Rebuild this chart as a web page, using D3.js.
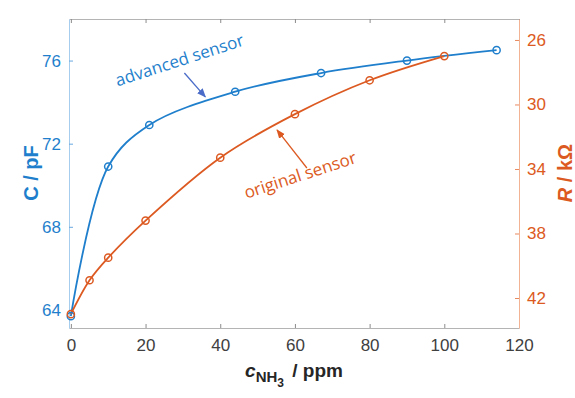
<!DOCTYPE html>
<html>
<head>
<meta charset="utf-8">
<script src="https://cdn.jsdelivr.net/npm/d3@7"></script>
<style>
  body { margin: 0; background: #fff; }
  svg text { font-family: "Liberation Sans", Arial, sans-serif; }
  .note { font-family: "Open Sans", "Lato", sans-serif; }
</style>
</head>
<body>
<svg id="chart" width="575" height="398"></svg>
<script>
// data
var advancedX = [0, 10, 21, 44, 67, 90, 114];
var advancedC = [63.7, 70.9, 72.9, 74.5, 75.4, 76.0, 76.5];
var originalX = [0, 5, 10, 20, 40, 60, 80, 100];
var originalR = [43.0, 40.9, 39.5, 37.2, 33.3, 30.6, 28.5, 27.0];

var xTicks = [0, 20, 40, 60, 80, 100, 120];
var cTicks = [64, 68, 72, 76];
var rTicks = [26, 30, 34, 38, 42];

var blue = "#1f7fcc", orange = "#dc5a22";

var svg = d3.select("#chart");
var plotL = 69, plotR = 519, plotT = 19, plotB = 328;

var x = d3.scaleLinear().domain([-0.5, 120]).range([plotL, plotR]);
var yC = d3.scaleLinear().domain([63.13, 78]).range([plotB, plotT]);
var yR = d3.scaleLinear().domain([43.86, 24.7]).range([plotB, plotT]);

// axes
var xAxis = svg.append("g")
  .attr("transform", "translate(0," + plotB + ")")
  .call(d3.axisBottom(x).tickValues(xTicks).tickSizeInner(-4).tickSizeOuter(0).tickPadding(11));
xAxis.select(".domain").attr("stroke", "#b4b4b4");
xAxis.selectAll(".tick line").attr("stroke", "#8c8c8c");
xAxis.selectAll("text").attr("fill", "#404040").style("font-size", "17px");

var topAxis = svg.append("g")
  .attr("transform", "translate(0," + plotT + ")")
  .call(d3.axisTop(x).tickValues(xTicks).tickSizeInner(-4).tickSizeOuter(0).tickFormat(""));
topAxis.select(".domain").attr("stroke", "#b4b4b4");
topAxis.selectAll(".tick line").attr("stroke", "#8c8c8c");

var leftAxis = svg.append("g")
  .attr("transform", "translate(" + plotL + ",0)")
  .call(d3.axisLeft(yC).tickValues(cTicks).tickSizeInner(-4).tickSizeOuter(0).tickPadding(8));
leftAxis.select(".domain").attr("stroke", "#a6cdee");
leftAxis.selectAll(".tick line").attr("stroke", "#6aaae0");
leftAxis.selectAll("text").attr("fill", blue).style("font-size", "17px");

var rightAxis = svg.append("g")
  .attr("transform", "translate(" + plotR + ",0)")
  .call(d3.axisRight(yR).tickValues(rTicks).tickSizeInner(-4).tickSizeOuter(0).tickPadding(8));
rightAxis.select(".domain").attr("stroke", "#f2b394");
rightAxis.selectAll(".tick line").attr("stroke", "#e88a60");
rightAxis.selectAll("text").attr("fill", orange).style("font-size", "17px");

// series
var advanced = advancedX.map(function(d, i) { return [d, advancedC[i]]; });
var original = originalX.map(function(d, i) { return [d, originalR[i]]; });

var lineC = d3.line().curve(d3.curveCatmullRom.alpha(0.5))
  .x(function(d) { return x(d[0]); }).y(function(d) { return yC(d[1]); });
var lineR = d3.line().curve(d3.curveCatmullRom.alpha(0.5))
  .x(function(d) { return x(d[0]); }).y(function(d) { return yR(d[1]); });

svg.append("path").datum(advanced).attr("d", lineC)
  .attr("fill", "none").attr("stroke", blue).attr("stroke-width", 1.8);
svg.append("path").datum(original).attr("d", lineR)
  .attr("fill", "none").attr("stroke", orange).attr("stroke-width", 1.8);

svg.selectAll("circle.adv").data(advanced).enter().append("circle")
  .attr("class", "adv")
  .attr("cx", function(d) { return x(d[0]); })
  .attr("cy", function(d) { return yC(d[1]); })
  .attr("r", 3.6).attr("fill", "none").attr("stroke", blue).attr("stroke-width", 1.5);
svg.selectAll("circle.orig").data(original).enter().append("circle")
  .attr("class", "orig")
  .attr("cx", function(d) { return x(d[0]); })
  .attr("cy", function(d) { return yR(d[1]); })
  .attr("r", 3.6).attr("fill", "none").attr("stroke", orange).attr("stroke-width", 1.5);

// annotations with arrows
var defs = svg.append("defs");
function marker(id, color) {
  defs.append("marker").attr("id", id)
    .attr("viewBox", "0 0 10 10").attr("refX", 9).attr("refY", 5)
    .attr("markerWidth", 7).attr("markerHeight", 7).attr("orient", "auto")
    .append("path").attr("d", "M0,1 L10,5 L0,9 Z").attr("fill", color);
}
marker("arrB", "#4a6cc8");
marker("arrO", orange);

svg.append("line")
  .attr("x1", x(30.4)).attr("y1", yC(75.4)).attr("x2", x(36.0)).attr("y2", yC(74.25))
  .attr("stroke", "#4a6cc8").attr("stroke-width", 1.3).attr("marker-end", "url(#arrB)");
svg.append("line")
  .attr("x1", x(63.2)).attr("y1", yR(33.94)).attr("x2", x(55.2)).attr("y2", yR(31.58))
  .attr("stroke", orange).attr("stroke-width", 1.3).attr("marker-end", "url(#arrO)");

svg.append("text").attr("class", "note")
  .attr("transform", "translate(" + x(12.5) + "," + yC(74.75) + ") rotate(-18)")
  .attr("fill", blue).style("font-size", "17px")
  .text("advanced sensor");
svg.append("text").attr("class", "note")
  .attr("transform", "translate(" + x(47.0) + "," + yR(35.85) + ") rotate(-18)")
  .attr("fill", orange).style("font-size", "17px")
  .text("original sensor");

// axis titles
var cLab = svg.append("text")
  .attr("transform", "translate(38,173) rotate(-90)")
  .attr("text-anchor", "middle").attr("fill", blue)
  .style("font-size", "20px").style("font-weight", "bold");
cLab.append("tspan").text("C");
cLab.append("tspan").text(" / pF");

var rLab = svg.append("text")
  .attr("transform", "translate(572,173) rotate(-90)")
  .attr("text-anchor", "middle").attr("fill", orange)
  .style("font-size", "20px").style("font-weight", "bold");
rLab.append("tspan").style("font-style", "italic").text("R");
rLab.append("tspan").text(" / k\u03A9");

var xLab = svg.append("text")
  .attr("x", 294).attr("y", 377)
  .attr("text-anchor", "middle").attr("fill", "#262626")
  .style("font-size", "19px").style("font-weight", "bold");
xLab.append("tspan").style("font-style", "italic").text("c");
xLab.append("tspan").attr("dy", 5).style("font-size", "15px").text("NH");
xLab.append("tspan").attr("dy", 5).style("font-size", "12px").text("3");
xLab.append("tspan").attr("dy", -10).attr("dx", 3).text(" / ppm");
</script>
</body>
</html>
